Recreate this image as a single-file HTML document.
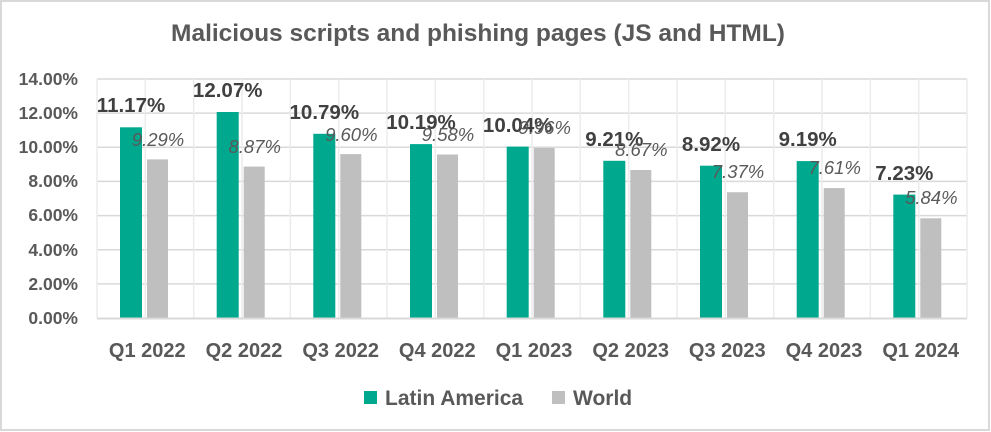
<!DOCTYPE html>
<html><head><meta charset="utf-8"><style>
html,body{margin:0;padding:0;background:#fff}
svg{display:block}
text{font-family:"Liberation Sans",sans-serif}
</style></head><body>
<svg width="991" height="432" viewBox="0 0 991 432" xmlns="http://www.w3.org/2000/svg">
<rect x="1" y="1" width="988" height="429" fill="#fff" stroke="#d9d9d9" stroke-width="2"/>
<text x="478" y="41" text-anchor="middle" font-size="24.5" font-weight="bold" fill="#595959">Malicious scripts and phishing pages (JS and HTML)</text>
<g stroke="#d9d9d9" stroke-width="1.5">
<line x1="97" y1="79" x2="967" y2="79"/><line x1="97" y1="113.1" x2="967" y2="113.1"/><line x1="97" y1="147.3" x2="967" y2="147.3"/><line x1="97" y1="181.4" x2="967" y2="181.4"/><line x1="97" y1="215.6" x2="967" y2="215.6"/><line x1="97" y1="249.7" x2="967" y2="249.7"/><line x1="97" y1="283.9" x2="967" y2="283.9"/>
</g>
<g stroke="#ececec" stroke-width="1.5">
<line x1="97" y1="79" x2="97" y2="318"/><line x1="145.3" y1="79" x2="145.3" y2="318"/><line x1="193.7" y1="79" x2="193.7" y2="318"/><line x1="242" y1="79" x2="242" y2="318"/><line x1="290.3" y1="79" x2="290.3" y2="318"/><line x1="338.7" y1="79" x2="338.7" y2="318"/><line x1="387" y1="79" x2="387" y2="318"/><line x1="435.3" y1="79" x2="435.3" y2="318"/><line x1="483.7" y1="79" x2="483.7" y2="318"/><line x1="532" y1="79" x2="532" y2="318"/><line x1="580.3" y1="79" x2="580.3" y2="318"/><line x1="628.7" y1="79" x2="628.7" y2="318"/><line x1="677" y1="79" x2="677" y2="318"/><line x1="725.3" y1="79" x2="725.3" y2="318"/><line x1="773.7" y1="79" x2="773.7" y2="318"/><line x1="822" y1="79" x2="822" y2="318"/><line x1="870.3" y1="79" x2="870.3" y2="318"/><line x1="918.7" y1="79" x2="918.7" y2="318"/><line x1="967" y1="79" x2="967" y2="318"/>
</g>
<g font-size="17.5" font-weight="bold" fill="#595959" text-anchor="end">
<text x="78" y="85">14.00%</text><text x="78" y="119">12.00%</text><text x="78" y="153">10.00%</text><text x="78" y="187">8.00%</text><text x="78" y="221">6.00%</text><text x="78" y="256">4.00%</text><text x="78" y="290">2.00%</text><text x="78" y="324">0.00%</text>
</g>
<g fill="#00a88e">
<rect x="120" y="127.3" width="22" height="190.7"/><rect x="216.7" y="112" width="22" height="206"/><rect x="313.3" y="133.8" width="22" height="184.2"/><rect x="410" y="144.1" width="22" height="173.9"/><rect x="506.7" y="146.6" width="22" height="171.4"/><rect x="603.3" y="160.8" width="22" height="157.2"/><rect x="700" y="165.7" width="22" height="152.3"/><rect x="796.7" y="161.1" width="22" height="156.9"/><rect x="893.3" y="194.6" width="22" height="123.4"/>
</g>
<g fill="#bfbfbf">
<rect x="147" y="159.4" width="21" height="158.6"/><rect x="243.7" y="166.6" width="21" height="151.4"/><rect x="340.3" y="154.1" width="21" height="163.9"/><rect x="437" y="154.5" width="21" height="163.5"/><rect x="533.7" y="148" width="21" height="170"/><rect x="630.3" y="170" width="21" height="148"/><rect x="727" y="192.2" width="21" height="125.8"/><rect x="823.7" y="188.1" width="21" height="129.9"/><rect x="920.3" y="218.3" width="21" height="99.7"/>
</g>
<line x1="97" y1="318.5" x2="967" y2="318.5" stroke="#d9d9d9" stroke-width="2"/>
<g font-size="20.5" font-weight="bold" fill="#404040" text-anchor="middle">
<text x="131" y="112">11.17%</text><text x="227.7" y="97">12.07%</text><text x="324.3" y="119">10.79%</text><text x="421" y="129">10.19%</text><text x="517.7" y="132">10.04%</text><text x="614.3" y="146">9.21%</text><text x="711" y="151">8.92%</text><text x="807.7" y="146">9.19%</text><text x="904.3" y="180">7.23%</text>
</g>
<g font-size="18.5" font-style="italic" fill="#595959" text-anchor="middle">
<text x="158" y="146">9.29%</text><text x="254.7" y="153">8.87%</text><text x="351.3" y="141">9.60%</text><text x="448" y="141">9.58%</text><text x="544.7" y="134">9.96%</text><text x="641.3" y="156">8.67%</text><text x="738" y="178">7.37%</text><text x="834.7" y="174">7.61%</text><text x="931.3" y="204">5.84%</text>
</g>
<g font-size="20" font-weight="bold" fill="#595959" text-anchor="middle">
<text x="147.3" y="357">Q1 2022</text><text x="244" y="357">Q2 2022</text><text x="340.7" y="357">Q3 2022</text><text x="437.3" y="357">Q4 2022</text><text x="534" y="357">Q1 2023</text><text x="630.7" y="357">Q2 2023</text><text x="727.3" y="357">Q3 2023</text><text x="824" y="357">Q4 2023</text><text x="920.7" y="357">Q1 2024</text>
</g>
<rect x="364" y="391" width="13" height="13" fill="#00a88e"/>
<text x="385" y="405" font-size="21" font-weight="bold" fill="#595959">Latin America</text>
<rect x="552" y="391" width="13" height="13" fill="#bfbfbf"/>
<text x="573" y="405" font-size="21" font-weight="bold" fill="#595959">World</text>
</svg>
</body></html>
